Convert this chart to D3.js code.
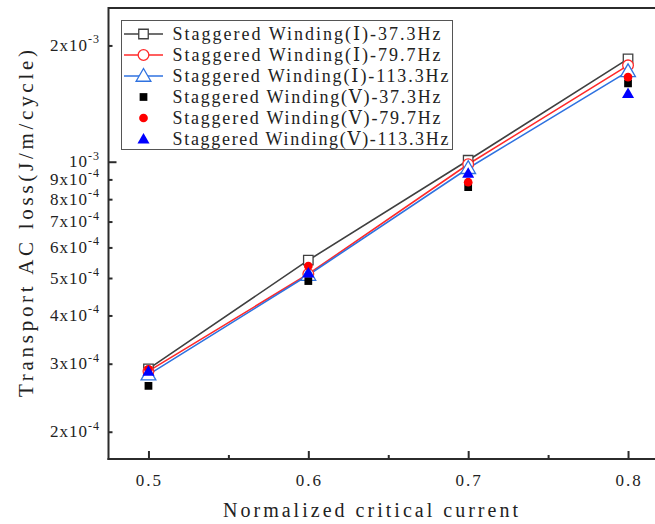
<!DOCTYPE html>
<html>
<head>
<meta charset="utf-8">
<script src="https://cdn.jsdelivr.net/npm/d3@7"></script>
<style>
  body { margin: 0; background: #fff; }
  text { font-family: "Liberation Serif", "DejaVu Serif", serif; fill: #222; }
</style>
</head>
<body>
<svg id="chart" width="655" height="524"></svg>
<script>
// Normalized critical current (x values)
const current = [0.5, 0.6, 0.7, 0.8];

// Transport AC loss, J/m/cycle — Staggered Winding (Ⅰ)
const windingI_37Hz  = [2.91e-4, 5.56e-4, 1.009e-3, 1.846e-3];
const windingI_80Hz  = [2.87e-4, 5.12e-4, 9.85e-4, 1.776e-3];
const windingI_113Hz = [2.81e-4, 5.09e-4, 9.62e-4, 1.713e-3];

// Transport AC loss, J/m/cycle — Staggered Winding (Ⅴ)
const windingV_37Hz  = [2.63e-4, 4.91e-4, 8.59e-4, 1.596e-3];
const windingV_80Hz  = [2.90e-4, 5.37e-4, 8.85e-4, 1.656e-3];
const windingV_113Hz = [2.87e-4, 5.15e-4, 9.34e-4, 1.502e-3];

const seriesNames = [
  "Staggered Winding(Ⅰ)-37.3Hz",
  "Staggered Winding(Ⅰ)-79.7Hz",
  "Staggered Winding(Ⅰ)-113.3Hz",
  "Staggered Winding(Ⅴ)-37.3Hz",
  "Staggered Winding(Ⅴ)-79.7Hz",
  "Staggered Winding(Ⅴ)-113.3Hz"
];

// Axis ticks
const xMajorTicks = [0.5, 0.6, 0.7, 0.8];
const xMinorTicks = [0.55, 0.65, 0.75];
const xTickLabels = ["0.5", "0.6", "0.7", "0.8"];
const yMajorTicks = [1e-3];
const yMinorTicks = [2e-4, 3e-4, 4e-4, 5e-4, 6e-4, 7e-4, 8e-4, 9e-4, 2e-3];
const yLabelValues   = [2e-4, 3e-4, 4e-4, 5e-4, 6e-4, 7e-4, 8e-4, 9e-4, 1e-3, 2e-3];
const yLabelMantissa = ["2", "3", "4", "5", "6", "7", "8", "9", "", "2"];
const yLabelExponent = ["-4", "-4", "-4", "-4", "-4", "-4", "-4", "-4", "-3", "-3"];

const svg = d3.select("#chart");

const plot = { left: 108.5, top: 8, bottom: 459, right: 668 };

const x = d3.scaleLinear().domain([0.475, 0.825]).range([plot.left, plot.right]);
const y = d3.scaleLog().domain([1.7e-4, 2.5e-3]).range([plot.bottom, plot.top]);

const axisColor = "#2b2b2b";

// Series styles
const series = [
  { name: seriesNames[0], values: windingI_37Hz,  line: "#404040", marker: "square",   open: true,  color: "#404040" },
  { name: seriesNames[1], values: windingI_80Hz,  line: "#ff2a2a", marker: "circle",   open: true,  color: "#ff2a2a" },
  { name: seriesNames[2], values: windingI_113Hz, line: "#2f72e0", marker: "triangle", open: true,  color: "#2f72e0" },
  { name: seriesNames[3], values: windingV_37Hz,  line: null, marker: "square",   open: false, color: "#000000" },
  { name: seriesNames[4], values: windingV_80Hz,  line: null, marker: "circle",   open: false, color: "#ff0000" },
  { name: seriesNames[5], values: windingV_113Hz, line: null, marker: "triangle", open: false, color: "#0000ff" }
];

function markerPath(type, open) {
  const size = open ? 90 : 60;
  const sym = type === "square" ? d3.symbolSquare : type === "circle" ? d3.symbolCircle : d3.symbolTriangle;
  return d3.symbol().type(sym).size(type === "triangle" ? size * 1.05 : size)();
}

function drawMarker(g, s, cx, cy) {
  g.append("path")
    .attr("d", markerPath(s.marker, s.open))
    .attr("transform", `translate(${cx},${cy + (s.marker === "triangle" ? 1 : 0)})`)
    .attr("fill", s.open ? "#fff" : s.color)
    .attr("stroke", s.open ? s.color : "none")
    .attr("stroke-width", s.open ? 1.3 : 0);
}

svg.append("defs").append("clipPath").attr("id", "plotClip")
  .append("rect").attr("x", plot.left).attr("y", plot.top)
  .attr("width", plot.right - plot.left).attr("height", plot.bottom - plot.top);

const data = svg.append("g").attr("clip-path", "url(#plotClip)");

const line = d3.line().x((d, i) => x(current[i])).y(d => y(d));

// Connecting lines for Winding (Ⅰ)
series.filter(s => s.line).forEach(s => {
  data.append("path").datum(s.values)
    .attr("d", line)
    .attr("fill", "none")
    .attr("stroke", s.line)
    .attr("stroke-width", 1.6);
});

// Markers, drawn in series order
series.forEach(s => {
  const g = data.append("g");
  s.values.forEach((v, i) => drawMarker(g, s, x(current[i]), y(v)));
});

// Frame: top border
svg.append("line")
  .attr("x1", plot.left).attr("x2", 655)
  .attr("y1", plot.top).attr("y2", plot.top)
  .attr("stroke", axisColor).attr("stroke-width", 2);

// X axis
const xAxisG = svg.append("g").attr("transform", `translate(0,${plot.bottom})`);
xAxisG.call(d3.axisBottom(x).tickValues(xMajorTicks).tickSize(-8).tickFormat(""));
xAxisG.select(".domain").remove();
const xMinorG = svg.append("g").attr("transform", `translate(0,${plot.bottom})`);
xMinorG.call(d3.axisBottom(x).tickValues(xMinorTicks).tickSize(-4).tickFormat(""));
xMinorG.select(".domain").remove();

svg.append("line")
  .attr("x1", plot.left - 1).attr("x2", 655)
  .attr("y1", plot.bottom).attr("y2", plot.bottom)
  .attr("stroke", axisColor).attr("stroke-width", 2);

svg.append("g").selectAll("text").data(xMajorTicks).join("text")
  .attr("x", d => x(d) + 1)
  .attr("y", 486)
  .attr("text-anchor", "middle")
  .style("font-size", "17px")
  .style("letter-spacing", "2px")
  .text((d, i) => xTickLabels[i]);

// Y axis
const yAxisG = svg.append("g").attr("transform", `translate(${plot.left},0)`);
yAxisG.call(d3.axisLeft(y).tickValues(yMajorTicks).tickSize(-8).tickFormat(""));
yAxisG.select(".domain").remove();
const yMinorG = svg.append("g").attr("transform", `translate(${plot.left},0)`);
yMinorG.call(d3.axisLeft(y).tickValues(yMinorTicks).tickSize(-4).tickFormat(""));
yMinorG.select(".domain").remove();
svg.selectAll(".tick line").attr("stroke", axisColor).attr("stroke-width", 2);

svg.append("line")
  .attr("x1", plot.left).attr("x2", plot.left)
  .attr("y1", plot.top - 1).attr("y2", plot.bottom + 1)
  .attr("stroke", axisColor).attr("stroke-width", 2);

const yLabels = svg.append("g").selectAll("text").data(yLabelValues).join("text")
  .attr("x", 100)
  .attr("y", d => y(d) + 5.5)
  .attr("text-anchor", "end")
  .style("font-size", "17px")
  .style("letter-spacing", "1px");
yLabels.append("tspan").text((d, i) => yLabelMantissa[i] ? yLabelMantissa[i] + "x10" : "10");
yLabels.append("tspan").attr("dy", -7.5).style("font-size", "12px").text((d, i) => yLabelExponent[i]);

// Axis titles
svg.append("text")
  .attr("x", 370.5).attr("y", 517)
  .attr("text-anchor", "middle")
  .attr("textLength", 295)
  .attr("lengthAdjust", "spacing")
  .style("font-size", "20px")
  .text("Normalized critical current");

svg.append("text")
  .attr("transform", "translate(33,223.5) rotate(-90)")
  .attr("text-anchor", "middle")
  .attr("textLength", 347)
  .attr("lengthAdjust", "spacing")
  .style("font-size", "21px")
  .text("Transport AC loss(J/m/cycle)");

// Legend
const legend = svg.append("g");
legend.append("rect")
  .attr("x", 121.5).attr("y", 20.5).attr("width", 331).attr("height", 129)
  .attr("fill", "#fff").attr("stroke", "#555").attr("stroke-width", 1);

series.forEach((s, i) => {
  const ly = 34 + i * 21;
  const row = legend.append("g");
  if (s.line) {
    row.append("line").attr("x1", 124).attr("x2", 163).attr("y1", ly).attr("y2", ly)
      .attr("stroke", s.line).attr("stroke-width", 1.6);
  }
  drawMarker(row, s, 143.5, ly);
  row.append("text")
    .attr("x", 172.5).attr("y", ly + 6)
    .attr("textLength", s.name.endsWith("113.3Hz") ? 276 : 268)
    .attr("lengthAdjust", "spacing")
    .style("font-size", "18px")
    .text(s.name);
});
</script>
</body>
</html>
